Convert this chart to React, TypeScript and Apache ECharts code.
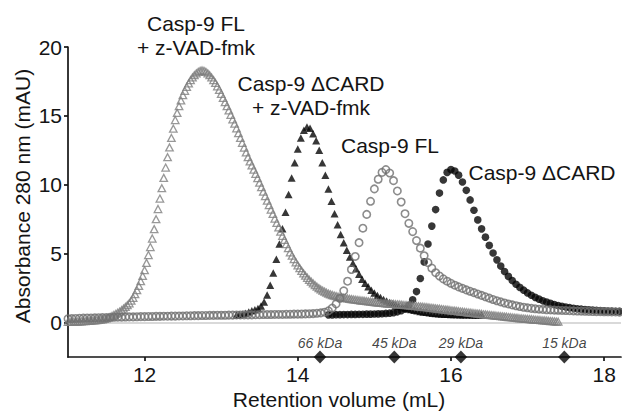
import React, { useEffect, useRef } from 'react';
import * as echarts from 'echarts';

// Sampling grid of each chromatogram (first retention volume and step, mL)
const flZvadStart = 11;
const flZvadStep = 0.025;
const dcardZvadStart = 13.2;
const dcardZvadStep = 0.04;
const flStart = 11;
const flStep = 0.05;
const dcardStart = 14.4;
const dcardStep = 0.05;

// Casp-9 FL + z-VAD-fmk (open grey triangles), absorbance in mAU
const flZvadAbs = [
  0.05, 0.05, 0.06, 0.06, 0.07, 0.07, 0.08, 0.09,
  0.10, 0.11, 0.12, 0.13, 0.14, 0.15, 0.16, 0.18,
  0.20, 0.22, 0.24, 0.27, 0.30, 0.35, 0.41, 0.48,
  0.55, 0.63, 0.71, 0.80, 0.90, 1.01, 1.13, 1.26,
  1.40, 1.59, 1.80, 2.06, 2.35, 2.66, 3.00, 3.38,
  3.80, 4.33, 4.90, 5.48, 6.10, 6.78, 7.50, 8.24,
  9.00, 9.75, 10.50, 11.25, 12.00, 12.71, 13.40, 14.07,
  14.70, 15.22, 15.70, 16.12, 16.50, 16.82, 17.10, 17.36,
  17.60, 17.79, 17.95, 18.09, 18.20, 18.27, 18.30, 18.27,
  18.20, 18.09, 17.95, 17.79, 17.60, 17.39, 17.15, 16.89,
  16.60, 16.30, 16.00, 15.70, 15.40, 15.08, 14.75, 14.43,
  14.10, 13.75, 13.40, 13.05, 12.70, 12.35, 12.00, 11.70,
  11.40, 11.10, 10.80, 10.48, 10.15, 9.83, 9.50, 9.18,
  8.85, 8.53, 8.20, 7.88, 7.55, 7.23, 6.90, 6.60,
  6.30, 6.00, 5.70, 5.40, 5.10, 4.85, 4.60, 4.37,
  4.15, 3.95, 3.75, 3.57, 3.40, 3.25, 3.10, 2.97,
  2.85, 2.72, 2.60, 2.50, 2.40, 2.32, 2.25, 2.17,
  2.10, 2.05, 2.00, 1.96, 1.92, 1.88, 1.85, 1.82,
  1.79, 1.77, 1.75, 1.72, 1.70, 1.68, 1.66, 1.64,
  1.62, 1.60, 1.59, 1.57, 1.55, 1.53, 1.52, 1.50,
  1.48, 1.47, 1.45, 1.44, 1.42, 1.41, 1.40, 1.38,
  1.37, 1.36, 1.35, 1.33, 1.32, 1.31, 1.30, 1.28,
  1.27, 1.26, 1.25, 1.23, 1.22, 1.21, 1.19, 1.18,
  1.16, 1.15, 1.13, 1.12, 1.10, 1.08, 1.07, 1.05,
  1.03, 1.01, 1.00, 0.98, 0.96, 0.94, 0.93, 0.91,
  0.89, 0.87, 0.86, 0.84, 0.82, 0.80, 0.79, 0.77,
  0.75, 0.73, 0.72, 0.70, 0.68, 0.67, 0.65, 0.64,
  0.62, 0.60, 0.59, 0.57, 0.55, 0.54, 0.52, 0.51,
  0.49, 0.48, 0.46, 0.45, 0.43, 0.42, 0.40, 0.39,
  0.37, 0.36, 0.34, 0.33, 0.31, 0.30, 0.29, 0.27,
  0.26, 0.25, 0.24, 0.22, 0.21, 0.20, 0.19, 0.17,
  0.16, 0.15, 0.14, 0.12, 0.11, 0.10, 0.09, 0.07,
  0.06,
];

// Casp-9 ΔCARD + z-VAD-fmk (filled black triangles), from 13.2 mL
const dcardZvadAbs = [
  0.55, 0.58, 0.62, 0.68, 0.76,
  0.85, 0.93, 1.02, 1.20, 1.50,
  2.00, 2.70, 3.60, 4.60, 5.70,
  6.80, 8.00, 9.30, 10.50, 11.60,
  12.60, 13.40, 13.95, 14.20, 14.10,
  13.70, 13.20, 12.50, 11.60, 10.70,
  9.70, 8.80, 7.90, 7.10, 6.40,
  5.80, 5.25, 4.75, 4.30, 3.90,
  3.50, 3.15, 2.85, 2.60, 2.35,
  2.15, 1.97, 1.82, 1.68, 1.56,
  1.45, 1.36, 1.27, 1.19, 1.12,
  1.05, 0.99, 0.94, 0.89, 0.85,
  0.81, 0.77, 0.74, 0.71, 0.68,
  0.66, 0.64, 0.62, 0.61, 0.60,
  0.59, 0.58, 0.58, 0.57, 0.57,
  0.56, 0.56, 0.55, 0.55, 0.55,
  0.54,
];

// Casp-9 FL (open grey circles)
const flAbs = [
  0.28, 0.29, 0.30, 0.31,
  0.32, 0.33, 0.33, 0.34,
  0.35, 0.36, 0.36, 0.37,
  0.38, 0.39, 0.39, 0.40,
  0.41, 0.41, 0.42, 0.43,
  0.43, 0.44, 0.44, 0.45,
  0.45, 0.46, 0.46, 0.47,
  0.47, 0.48, 0.48, 0.49,
  0.49, 0.50, 0.50, 0.51,
  0.51, 0.52, 0.52, 0.53,
  0.53, 0.53, 0.54, 0.54,
  0.55, 0.55, 0.56, 0.56,
  0.56, 0.57, 0.57, 0.58,
  0.58, 0.58, 0.59, 0.59,
  0.59, 0.60, 0.60, 0.61,
  0.61, 0.62, 0.63, 0.64,
  0.65, 0.67, 0.70, 0.75,
  0.85, 1.05, 1.35, 1.75,
  2.30, 3.00, 3.85, 4.80,
  5.80, 6.85, 7.85, 8.80,
  9.70, 10.40, 10.90, 11.10,
  10.85, 10.30, 9.55, 8.75,
  7.90, 7.20, 6.60, 5.95,
  5.40, 4.85, 4.35, 3.95,
  3.62, 3.38, 3.17, 3.00,
  2.85, 2.71, 2.59, 2.48,
  2.37, 2.27, 2.17, 2.07,
  1.97, 1.87, 1.77, 1.67,
  1.58, 1.50, 1.42, 1.35,
  1.28, 1.22, 1.16, 1.11,
  1.07, 1.03, 1.00, 0.97,
  0.95, 0.93, 0.92, 0.90,
  0.89, 0.88, 0.87, 0.86,
  0.85, 0.84, 0.83, 0.82,
  0.81, 0.80, 0.79, 0.79,
  0.78, 0.78, 0.77, 0.77,
  0.76,
];

// Casp-9 ΔCARD (filled black circles), from 14.4 mL
const dcardAbs = [
  0.56, 0.56, 0.57, 0.57,
  0.58, 0.58, 0.59, 0.59,
  0.60, 0.60, 0.61, 0.61,
  0.62, 0.63, 0.64, 0.66,
  0.68, 0.72, 0.78, 0.86,
  1.00, 1.25, 1.65, 2.25,
  3.20, 4.40, 5.70, 7.00,
  8.20, 9.40, 10.35, 10.90,
  11.10, 11.00, 10.70, 10.20,
  9.60, 8.90, 8.15, 7.45,
  6.80, 6.20, 5.60, 5.05,
  4.55, 4.10, 3.70, 3.35,
  3.05, 2.78, 2.55, 2.35,
  2.15, 1.98, 1.83, 1.70,
  1.58, 1.48, 1.39, 1.31,
  1.24, 1.18, 1.13, 1.08,
  1.04, 1.00, 0.97, 0.94,
  0.92, 0.90, 0.88, 0.86,
  0.85, 0.84, 0.83, 0.82,
  0.81,
];

// Molecular weight standards
const standardVolumes = [14.29, 15.26, 16.13, 17.48];
const standardLabels = ['66 kDa', '45 kDa', '29 kDa', '15 kDa'];

// Axes
const xMin = 11;
const xMax = 18.22;
const yMin = -2.5;
const yMax = 20;
const xTicks = [12, 14, 16, 18];
const yTicks = [0, 5, 10, 15, 20];

const FONT = '"Liberation Sans", Arial, Helvetica, sans-serif';
const INK = '#141414';
const NOFILL = 'rgba(255,255,255,0)';

const toPoints = (vals: number[], start: number, step: number) =>
  vals.map((v, i) => [+(start + i * step).toFixed(3), v]);

const textEl = (text: string, x: number, y: number, extra: any = {}) => ({
  type: 'text',
  x,
  y,
  silent: true,
  ...extra,
  style: {
    text,
    fontSize: 21,
    fontFamily: FONT,
    fill: INK,
    align: 'center',
    verticalAlign: 'middle',
    textAlign: 'center',
    textVerticalAlign: 'middle',
  },
});

export default function App() {
  const ref = useRef<HTMLDivElement>(null);

  useEffect(() => {
    if (!ref.current) return;
    const chart = echarts.init(ref.current, null, { renderer: 'svg' });

    const axisLine = { show: true, onZero: false, lineStyle: { color: INK, width: 1.7 } };
    const tickLine = { color: INK, width: 1.7 };
    const labelStyle = { fontSize: 21, fontFamily: FONT, color: INK };

    const option: any = {
      animation: false,
      backgroundColor: '#ffffff',
      grid: { left: 68, right: 1, top: 47, bottom: 58 },
      xAxis: {
        type: 'value',
        min: xMin,
        max: xMax,
        axisLine,
        axisTick: { show: true, customValues: xTicks, length: 4, lineStyle: tickLine },
        axisLabel: { customValues: xTicks, margin: 7, ...labelStyle },
        splitLine: { show: false },
      },
      yAxis: {
        type: 'value',
        min: yMin,
        max: yMax,
        axisLine,
        axisTick: { show: true, customValues: yTicks, length: 4, lineStyle: tickLine },
        axisLabel: { customValues: yTicks, margin: 6, ...labelStyle },
        splitLine: { show: false },
      },
      graphic: [
        textEl('Casp-9 FL', 196, 23),
        textEl('+ z-VAD-fmk', 196, 47),
        textEl('Casp-9 \u0394CARD', 311, 83),
        textEl('+ z-VAD-fmk', 311, 107),
        textEl('Casp-9 FL', 390, 145),
        textEl('Casp-9 \u0394CARD', 542, 172),
        textEl('Absorbance 280 nm (mAU)', 22, 196, { rotation: Math.PI / 2 }),
        textEl('Retention volume (mL)', 339, 399),
      ],
      series: [
        {
          name: 'Casp-9 ΔCARD + z-VAD-fmk',
          type: 'scatter',
          data: toPoints(dcardZvadAbs, dcardZvadStart, dcardZvadStep),
          symbol: 'triangle',
          symbolSize: [8, 7.5],
          itemStyle: { color: '#050505' },
          markLine: {
            silent: true,
            z: 1,
            symbol: ['none', 'none'],
            label: { show: false },
            lineStyle: { color: '#cccccc', width: 1.5, type: 'solid' },
            data: [{ yAxis: 0 }],
          },
        },
        {
          name: 'Casp-9 ΔCARD',
          type: 'scatter',
          data: toPoints(dcardAbs, dcardStart, dcardStep),
          symbol: 'circle',
          symbolSize: 7.6,
          itemStyle: { color: '#050505' },
        },
        {
          name: 'Casp-9 FL + z-VAD-fmk',
          type: 'scatter',
          data: toPoints(flZvadAbs, flZvadStart, flZvadStep),
          symbol: 'triangle',
          symbolSize: [7.5, 7],
          itemStyle: { color: NOFILL, borderColor: '#7e7e7e', borderWidth: 1.3 },
        },
        {
          name: 'Casp-9 FL',
          type: 'scatter',
          data: toPoints(flAbs, flStart, flStep),
          symbol: 'circle',
          symbolSize: 7.4,
          itemStyle: { color: NOFILL, borderColor: '#6f6f6f', borderWidth: 1.6 },
        },
        {
          name: 'Standards',
          type: 'scatter',
          clip: false,
          z: 5,
          data: standardVolumes.map((v, i) => ({ value: [v, yMin], name: standardLabels[i] })),
          symbol: 'diamond',
          symbolSize: [12.5, 13],
          itemStyle: { color: '#050505' },
          label: {
            show: true,
            position: 'top',
            distance: 1,
            formatter: '{b}',
            fontFamily: FONT,
            fontStyle: 'italic',
            fontSize: 14,
            color: '#111111',
          },
        },
      ],
    };

    chart.setOption(option);
    return () => chart.dispose();
  }, []);

  return (
    <div
      ref={ref}
      style={{ position: 'fixed', left: 0, top: 0, width: 622, height: 415, background: '#fff' }}
    />
  );
}
